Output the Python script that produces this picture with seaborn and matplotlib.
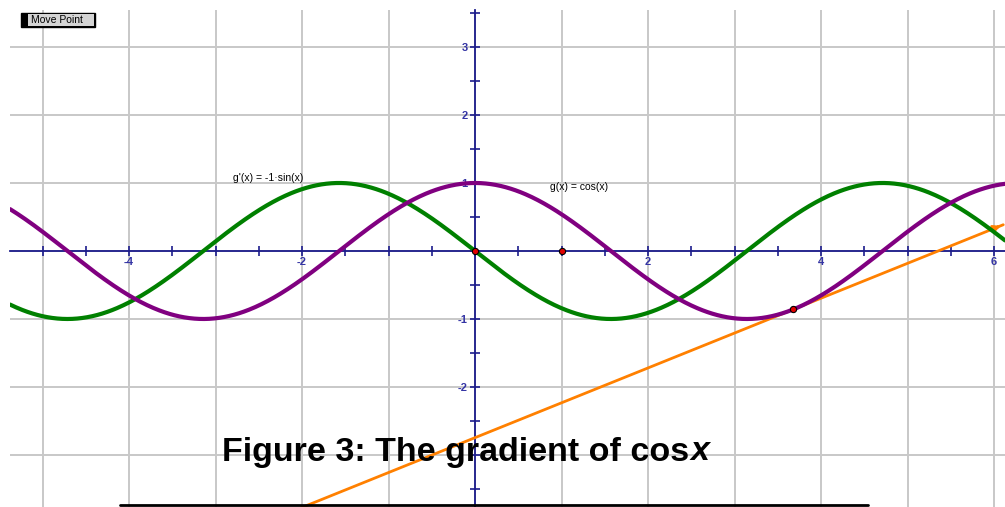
import matplotlib
matplotlib.use('Agg')
import matplotlib.pyplot as plt
import matplotlib.ticker as mticker
from matplotlib.patches import Rectangle
import seaborn as sns
import numpy as np
import pandas as pd

sns.set_style('white')
plt.rcParams['font.family'] = ['Liberation Sans', 'DejaVu Sans']
plt.rcParams['axes.unicode_minus'] = False
plt.rcParams['text.color'] = 'black'

# view window of the graph
x_min, x_max = -5.376, 6.127
y_min, y_max = -3.765, 3.544

# tangent point on g(x) = cos(x) and the free points on the x axis
tangent_x = 3.68
axis_points_x = [0, 1]

x_ticks_labelled = [-4, -2, 2, 4, 6]
y_ticks_labelled = [-2, -1, 1, 2, 3]   # the -3 label sits hidden under the caption

title_main = "Figure 3: The gradient of cos"
title_var = "x"
label_gprime = "g'(x) = -1\u00b7sin(x)"
label_g = "g(x) = cos(x)"

xs = np.linspace(x_min, x_max, 800)
df = pd.concat([
    pd.DataFrame({'x': xs, 'y': -np.sin(xs), 'f': "g'"}),
    pd.DataFrame({'x': xs, 'y': np.cos(xs), 'f': 'g'}),
])

fig = plt.figure(figsize=(10.05, 5.07), dpi=100)
ax = fig.add_axes([10 / 1005, 0, 995 / 1005, 497 / 507])

sns.lineplot(data=df, x='x', y='y', hue='f', palette={"g'": '#008000', 'g': '#800080'},
             linewidth=3, estimator=None, sort=False, legend=False, ax=ax, zorder=3)

# tangent line at tangent_x
slope = -np.sin(tangent_x)
t0 = np.cos(tangent_x)
tan_df = pd.DataFrame({'x': [x_min, x_max - 0.02]})
tan_df['y'] = t0 + slope * (tan_df['x'] - tangent_x)
sns.lineplot(data=tan_df, x='x', y='y', color='#ff8000', linewidth=2, ax=ax, zorder=2)
ax.annotate('', xy=(tan_df['x'].iloc[1], tan_df['y'].iloc[1]),
            xytext=(tan_df['x'].iloc[1] - 0.1, tan_df['y'].iloc[1] - 0.1 * slope),
            arrowprops=dict(arrowstyle='-|>', color='#ff8000', lw=2, mutation_scale=10),
            zorder=2)

pts = pd.DataFrame({'x': axis_points_x + [tangent_x],
                    'y': [0, 0, np.cos(tangent_x)]})
sns.scatterplot(data=pts, x='x', y='y', color='#e00000', edgecolor='black',
                s=20, linewidth=0.8, ax=ax, zorder=5)

ax.set_xlim(x_min, x_max)
ax.set_ylim(y_min, y_max)

# grid every unit
for gx in range(-5, 7):
    ax.axvline(gx, color='#c8c8c8', lw=1.4, zorder=0)
for gy in range(-3, 4):
    ax.axhline(gy, color='#c8c8c8', lw=1.4, zorder=0)

# axes through the origin
axis_col = '#1c1c8c'
for side in ['top', 'right']:
    ax.spines[side].set_visible(False)
for side in ['left', 'bottom']:
    ax.spines[side].set_position(('data', 0))
    ax.spines[side].set_color(axis_col)
    ax.spines[side].set_linewidth(1.3)
    ax.spines[side].set_zorder(1)

ax.xaxis.set_major_locator(mticker.FixedLocator(x_ticks_labelled))
ax.yaxis.set_major_locator(mticker.FixedLocator(y_ticks_labelled))
ax.xaxis.set_minor_locator(mticker.MultipleLocator(0.5))
ax.yaxis.set_minor_locator(mticker.MultipleLocator(0.5))
ax.tick_params(which='both', bottom=True, left=True, direction='inout', length=6.5,
               width=1.2, color=axis_col, labelsize=8, labelcolor='#3434a4')
ax.tick_params(axis='x', which='both', pad=1)
ax.tick_params(axis='y', which='both', pad=2)
for lbl in ax.get_xticklabels() + ax.get_yticklabels():
    lbl.set_fontweight('bold')
ax.set_xlabel('')
ax.set_ylabel('')

ax.text(-2.80, 1.07, label_gprime, fontsize=7.5, ha='left', va='center', zorder=6)
ax.text(0.87, 0.94, label_g, fontsize=7.5, ha='left', va='center', zorder=6)

# title: bold text with a bold italic x after it
ty = 1 - 452 / 507
t1 = fig.text(222 / 1005, ty, title_main, fontsize=24.5, fontweight='bold',
              ha='left', va='center', zorder=10)
fig.canvas.draw()
bb = t1.get_window_extent(fig.canvas.get_renderer())
fig.text(bb.x1 / fig.bbox.width + 1 / 1005, ty, title_var, fontsize=24.5, fontweight='bold',
         fontstyle='italic', ha='left', va='center', zorder=10)

# "Move Point" button
fig.patches.append(Rectangle((21 / 1005, 1 - 27 / 507), 74 / 1005, 14 / 507,
                             transform=fig.transFigure, facecolor='black', edgecolor='black', zorder=8))
fig.patches.append(Rectangle((28 / 1005, 1 - 26 / 507), 66 / 1005, 12 / 507,
                             transform=fig.transFigure, facecolor='#d4d4d4', edgecolor='none', zorder=9))
fig.text(31 / 1005, 1 - 20 / 507, 'Move Point', fontsize=7.5, ha='left', va='center', zorder=10)

# black rule at the bottom
fig.add_artist(plt.Line2D([120 / 1005, 868 / 1005], [2 / 507, 2 / 507], color='black', lw=2))

fig.savefig('out.png', dpi=100)
